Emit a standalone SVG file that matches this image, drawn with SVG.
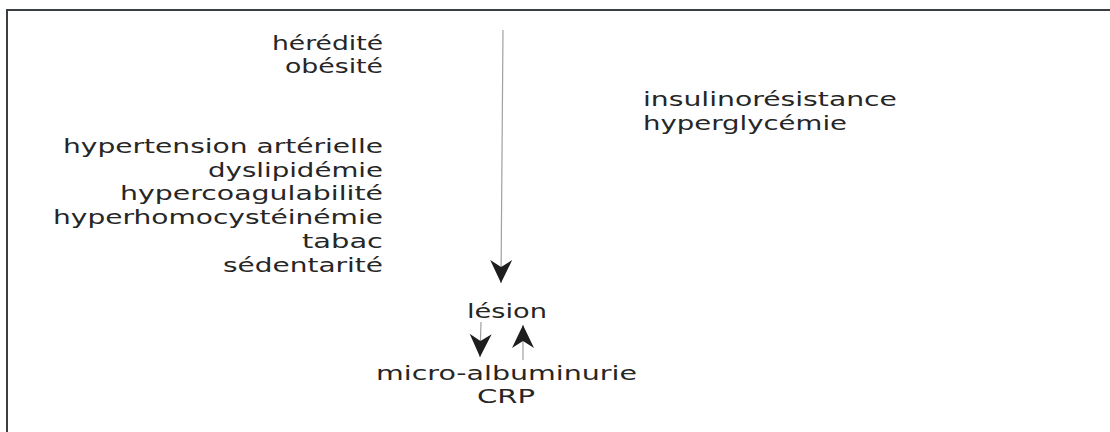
<svg xmlns="http://www.w3.org/2000/svg" width="1110" height="432" viewBox="0 0 1110 432">
<style>
  text { font-family: "DejaVu Sans", "Open Sans", sans-serif; font-size: 20px; fill: #262626; }
  .frame { fill: none; stroke: #3a3f44; stroke-width: 2; }
  .conn { stroke: #a0a0a0; stroke-width: 1.2; fill: none; marker-end: url(#head); }
</style>
<defs>
  <marker id="head" markerUnits="userSpaceOnUse" viewBox="-24 -12 25 24" refX="0" refY="0" markerWidth="25" markerHeight="24" orient="auto">
    <path d="M0,0 L-23,-11 L-16,0 L-23,11 Z" fill="#1e1e1e"/>
  </marker>
</defs>
<rect width="1110" height="432" fill="#ffffff"/>
<path class="frame" d="M7,432 L7,10 L1110,10"/>

<g id="facteurs-genetiques">
  <text x="272" y="50" textLength="111" lengthAdjust="spacingAndGlyphs">hérédité</text>
  <text x="285" y="73" textLength="98" lengthAdjust="spacingAndGlyphs">obésité</text>
</g>
<g id="facteurs-risque">
  <text x="63" y="153" textLength="320" lengthAdjust="spacingAndGlyphs">hypertension artérielle</text>
  <text x="208" y="177" textLength="175" lengthAdjust="spacingAndGlyphs">dyslipidémie</text>
  <text x="120" y="200" textLength="263" lengthAdjust="spacingAndGlyphs">hypercoagulabilité</text>
  <text x="53" y="224" textLength="330" lengthAdjust="spacingAndGlyphs">hyperhomocystéinémie</text>
  <text x="302" y="248" textLength="81" lengthAdjust="spacingAndGlyphs">tabac</text>
  <text x="223" y="272" textLength="160" lengthAdjust="spacingAndGlyphs">sédentarité</text>
</g>
<g id="metabolique">
  <text x="643" y="106" textLength="254" lengthAdjust="spacingAndGlyphs">insulinorésistance</text>
  <text x="643" y="130" textLength="204" lengthAdjust="spacingAndGlyphs">hyperglycémie</text>
</g>
<g id="lesion">
  <text x="467" y="318" textLength="80" lengthAdjust="spacingAndGlyphs">lésion</text>
</g>
<g id="marqueurs">
  <text x="376" y="380" textLength="261" lengthAdjust="spacingAndGlyphs">micro-albuminurie</text>
  <text x="477" y="403" textLength="58" lengthAdjust="spacingAndGlyphs">CRP</text>
</g>

<g id="connectors">
  <path class="conn" d="M503,30 L501,283"/>
  <path class="conn" d="M481,322 L480,357"/>
  <path class="conn" d="M523,360 L523,325"/>
</g>
</svg>
